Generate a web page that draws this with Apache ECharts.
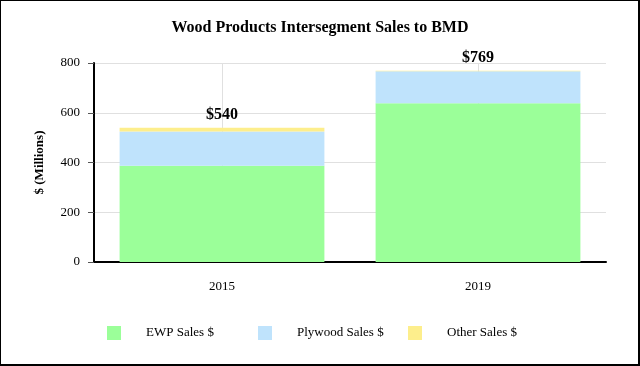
<!DOCTYPE html>
<html><head><meta charset="utf-8">
<script src="https://cdn.jsdelivr.net/npm/echarts@6/dist/echarts.min.js"></script>
<style>
html,body{margin:0;padding:0;background:#fff;}
#frame{width:640px;height:366px;box-sizing:border-box;border:1px solid #000;border-right-width:2px;border-bottom-width:2px;position:relative;overflow:hidden;}
#c{position:absolute;left:-1px;top:-1px;width:640px;height:366px;}
</style></head>
<body><div id="frame"><div id="c"></div></div>
<script>
const categories = ['2015', '2019'];
const seriesNames = ['EWP Sales $', 'Plywood Sales $', 'Other Sales $'];
const ewpSales = [387, 638];
const plywoodSales = [138, 129];
const otherSales = [15, 2];
const totalLabels = ['$540', '$769'];
const yTicks = [0, 200, 400, 600, 800];

const font = '"Liberation Serif", "Times New Roman", serif';
const legendLefts = [102, 253, 403];
const chart = echarts.init(document.getElementById('c'));
chart.setOption({
  animation: false,
  textStyle: { fontFamily: font },
  title: {
    text: 'Wood Products Intersegment Sales to BMD',
    left: 'center', top: 15,
    textStyle: { fontFamily: font, fontSize: 16, fontWeight: 'bold', color: '#000' }
  },
  legend: seriesNames.map((n, i) => ({
    left: legendLefts[i], top: 321,
    itemWidth: 14, itemHeight: 14,
    icon: 'rect',
    textStyle: { fontFamily: font, fontSize: 13, color: '#000', padding: [0, 0, 0, 20] },
    data: [n]
  })),
  grid: { left: 94, right: 34, top: 63, bottom: 104 },
  xAxis: {
    type: 'category',
    data: categories,
    axisLine: { lineStyle: { color: '#000', width: 2 } },
    axisTick: { alignWithLabel: true, length: 5, lineStyle: { color: '#555' } },
    axisLabel: { fontFamily: font, fontSize: 13, color: '#000', margin: 18 },
    splitLine: { show: true, alignWithLabel: true, lineStyle: { color: '#e0e0e0' } }
  },
  yAxis: {
    type: 'value', min: 0, max: 800, interval: 200,
    name: '$ (Millions)', nameLocation: 'middle', nameGap: 48,
    nameTextStyle: { fontFamily: font, fontSize: 13, fontWeight: 'bold', color: '#000' },
    axisLine: { show: true, lineStyle: { color: '#000', width: 2 } },
    axisTick: { show: true, length: 6, lineStyle: { color: '#555' } },
    axisLabel: { fontFamily: font, fontSize: 13, color: '#000', margin: 14,
      formatter: v => yTicks.includes(v) ? String(v) : '' },
    splitLine: { show: true, lineStyle: { color: '#e0e0e0' } }
  },
  series: [
    { name: seriesNames[0], type: 'bar', stack: 't', data: ewpSales, barCategoryGap: '20%',
      itemStyle: { color: '#9bff99' } },
    { name: seriesNames[1], type: 'bar', stack: 't', data: plywoodSales,
      itemStyle: { color: '#bfe3fc' } },
    { name: seriesNames[2], type: 'bar', stack: 't', data: otherSales,
      itemStyle: { color: '#fdee8c' },
      label: { show: true, position: 'top', distance: 5,
        formatter: p => totalLabels[p.dataIndex],
        fontFamily: font, fontSize: 16, fontWeight: 'bold', color: '#000' } }
  ]
});
</script></body></html>
